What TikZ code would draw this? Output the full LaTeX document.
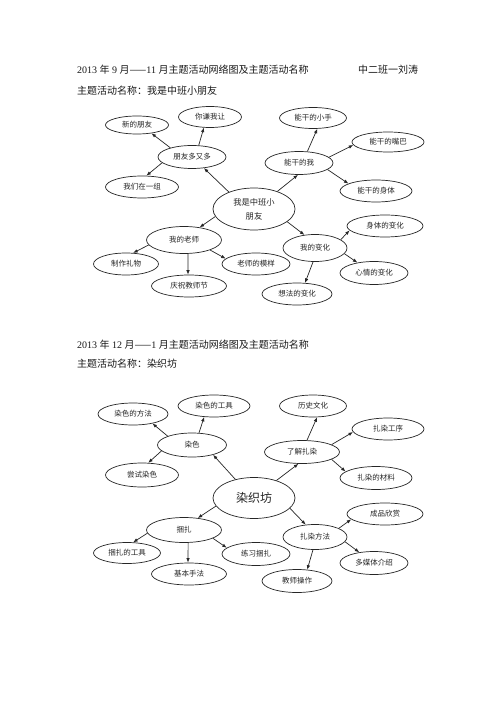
\documentclass[tikz,border=0pt]{standalone}
\usepackage{fontspec}
\setmainfont{Liberation Serif}
\newfontfamily\cjk{Noto Sans CJK SC}
\usetikzlibrary{shapes.geometric,arrows.meta}
\begin{document}
\begin{tikzpicture}[x=1pt,y=-1pt,
  bub/.style={ellipse,draw=black!85,line width=0.7pt,inner sep=0pt,text=black!85,font=\cjk\fontsize{7.5}{9}\selectfont},
  arr/.style={-{Latex[length=4.5pt,width=3.5pt]},line width=0.7pt,draw=black!85},
  ttl/.style={anchor=west,inner sep=0pt,text=black!90,font=\fontsize{10}{12}\selectfont}]
\useasboundingbox[fill=white] (0,0) rectangle (500,708);

% titles
\node[ttl] (t1) at (77,70) {2013 {\cjk 年} 9 {\cjk 月——}11 {\cjk 月主题活动网络图及主题活动名称}};
\node[ttl] (t1b) at (358,70) {\cjk 中二班一刘涛};
\node[ttl] (t2) at (77,91) {\cjk 主题活动名称：我是中班小朋友};
\node[ttl] (t3) at (77,345) {2013 {\cjk 年} 12 {\cjk 月——}1 {\cjk 月主题活动网络图及主题活动名称}};
\node[ttl] (t4) at (77,364) {\cjk 主题活动名称：染织坊};

% ---------- diagram 1 ----------
\node[bub,minimum width=82pt,minimum height=42pt,align=center,font=\cjk\fontsize{8.3}{14}\selectfont] (C1) at (254,209) {我是中班小\\朋友};
\node[bub,minimum width=68pt,minimum height=23pt] (A) at (192,157) {朋友多又多};
\node[bub,minimum width=63pt,minimum height=18pt] (A1) at (137,125) {新的朋友};
\node[bub,minimum width=63pt,minimum height=21pt] (A2) at (210,117) {你谦我让};
\node[bub,minimum width=73pt,minimum height=22pt] (A3) at (142,187) {我们在一组};
\node[bub,minimum width=75pt,minimum height=27pt] (B) at (184,240) {我的老师};
\node[bub,minimum width=65pt,minimum height=22pt] (B1) at (126,264) {制作礼物};
\node[bub,minimum width=75pt,minimum height=22pt] (B2) at (189,286) {庆祝教师节};
\node[bub,minimum width=68pt,minimum height=22pt] (B3) at (256,264) {老师的模样};
\node[bub,minimum width=68pt,minimum height=23pt] (D) at (299,163) {能干的我};
\node[bub,minimum width=67pt,minimum height=21pt] (D1) at (313,118) {能干的小手};
\node[bub,minimum width=72pt,minimum height=20pt] (D2) at (388,142) {能干的嘴巴};
\node[bub,minimum width=72pt,minimum height=22pt] (D3) at (376,191) {能干的身体};
\node[bub,minimum width=64pt,minimum height=27pt] (E) at (315,248) {我的变化};
\node[bub,minimum width=76pt,minimum height=22pt] (E1) at (385,226) {身体的变化};
\node[bub,minimum width=68pt,minimum height=23pt] (E2) at (374,273) {心情的变化};
\node[bub,minimum width=70pt,minimum height=22pt] (E3) at (297,294) {想法的变化};

\draw[arr] (C1.146) -- (A.317);
\draw[arr] (A.157) -- (A1.330);
\draw[arr] (A.60) -- (A2.240);
\draw[arr] (A.191) -- (A3.69);
\draw[arr] (C1.191) -- (B.39);
\draw[arr] (B.188) -- (B1.57);
\draw[arr] (B.286) -- (B2.95);
\draw[arr] (B.339) -- (B3.170);
\draw[arr] (C1.37) -- (D.265);
\draw[arr] (D.54) -- (D1.292);
\draw[arr] (D.11) -- (D2.185);
\draw[arr] (D.347) -- (D3.165);
\draw[arr] (C1.339) -- (E.129);
\draw[arr] (E.18) -- (E1.187);
\draw[arr] (E.349) -- (E2.148);
\draw[arr] (E.262) -- (E3.54);

% ---------- diagram 2 ----------
\node[bub,minimum width=82pt,minimum height=41pt,font=\cjk\fontsize{12}{14}\selectfont] (C2) at (254,498) {染织坊};
\node[bub,minimum width=69pt,minimum height=24pt] (F) at (192,445) {染色};
\node[bub,minimum width=70pt,minimum height=22pt] (F1) at (133,414) {染色的方法};
\node[bub,minimum width=72pt,minimum height=22pt] (F2) at (214,406) {染色的工具};
\node[bub,minimum width=73pt,minimum height=24pt] (F3) at (142,475) {尝试染色};
\node[bub,minimum width=75pt,minimum height=25pt] (G) at (184,530) {捆扎};
\node[bub,minimum width=67pt,minimum height=21pt] (G1) at (127,553) {捆扎的工具};
\node[bub,minimum width=75pt,minimum height=22pt] (G2) at (189,574) {基本手法};
\node[bub,minimum width=68pt,minimum height=23pt] (G3) at (256,554) {练习捆扎};
\node[bub,minimum width=75pt,minimum height=23pt] (H) at (302,452) {了解扎染};
\node[bub,minimum width=67pt,minimum height=22pt] (H1) at (313,406) {历史文化};
\node[bub,minimum width=72pt,minimum height=22pt] (H2) at (388,429) {扎染工序};
\node[bub,minimum width=72pt,minimum height=23pt] (H3) at (376,478) {扎染的材料};
\node[bub,minimum width=64pt,minimum height=25pt] (K) at (315,537) {扎染方法};
\node[bub,minimum width=76pt,minimum height=22pt] (K1) at (385,514) {成品欣赏};
\node[bub,minimum width=68pt,minimum height=23pt] (K2) at (374,563) {多媒体介绍};
\node[bub,minimum width=70pt,minimum height=23pt] (K3) at (297,581) {教师操作};

\draw[arr] (C2.135) -- (F.335);
\draw[arr] (F.160) -- (F1.334);
\draw[arr] (F.60) -- (F2.228);
\draw[arr] (F.191) -- (F3.63);
\draw[arr] (C2.192) -- (G.41);
\draw[arr] (G.185) -- (G1.60);
\draw[arr] (G.288) -- (G2.95);
\draw[arr] (G.344) -- (G3.168);
\draw[arr] (C2.38) -- (H.253);
\draw[arr] (H.67) -- (H1.290);
\draw[arr] (H.14) -- (H2.185);
\draw[arr] (H.346) -- (H3.168);
\draw[arr] (C2.344) -- (K.127);
\draw[arr] (K.20) -- (K1.189);
\draw[arr] (K.351) -- (K2.144);
\draw[arr] (K.261) -- (K3.48);
\end{tikzpicture}
\end{document}
